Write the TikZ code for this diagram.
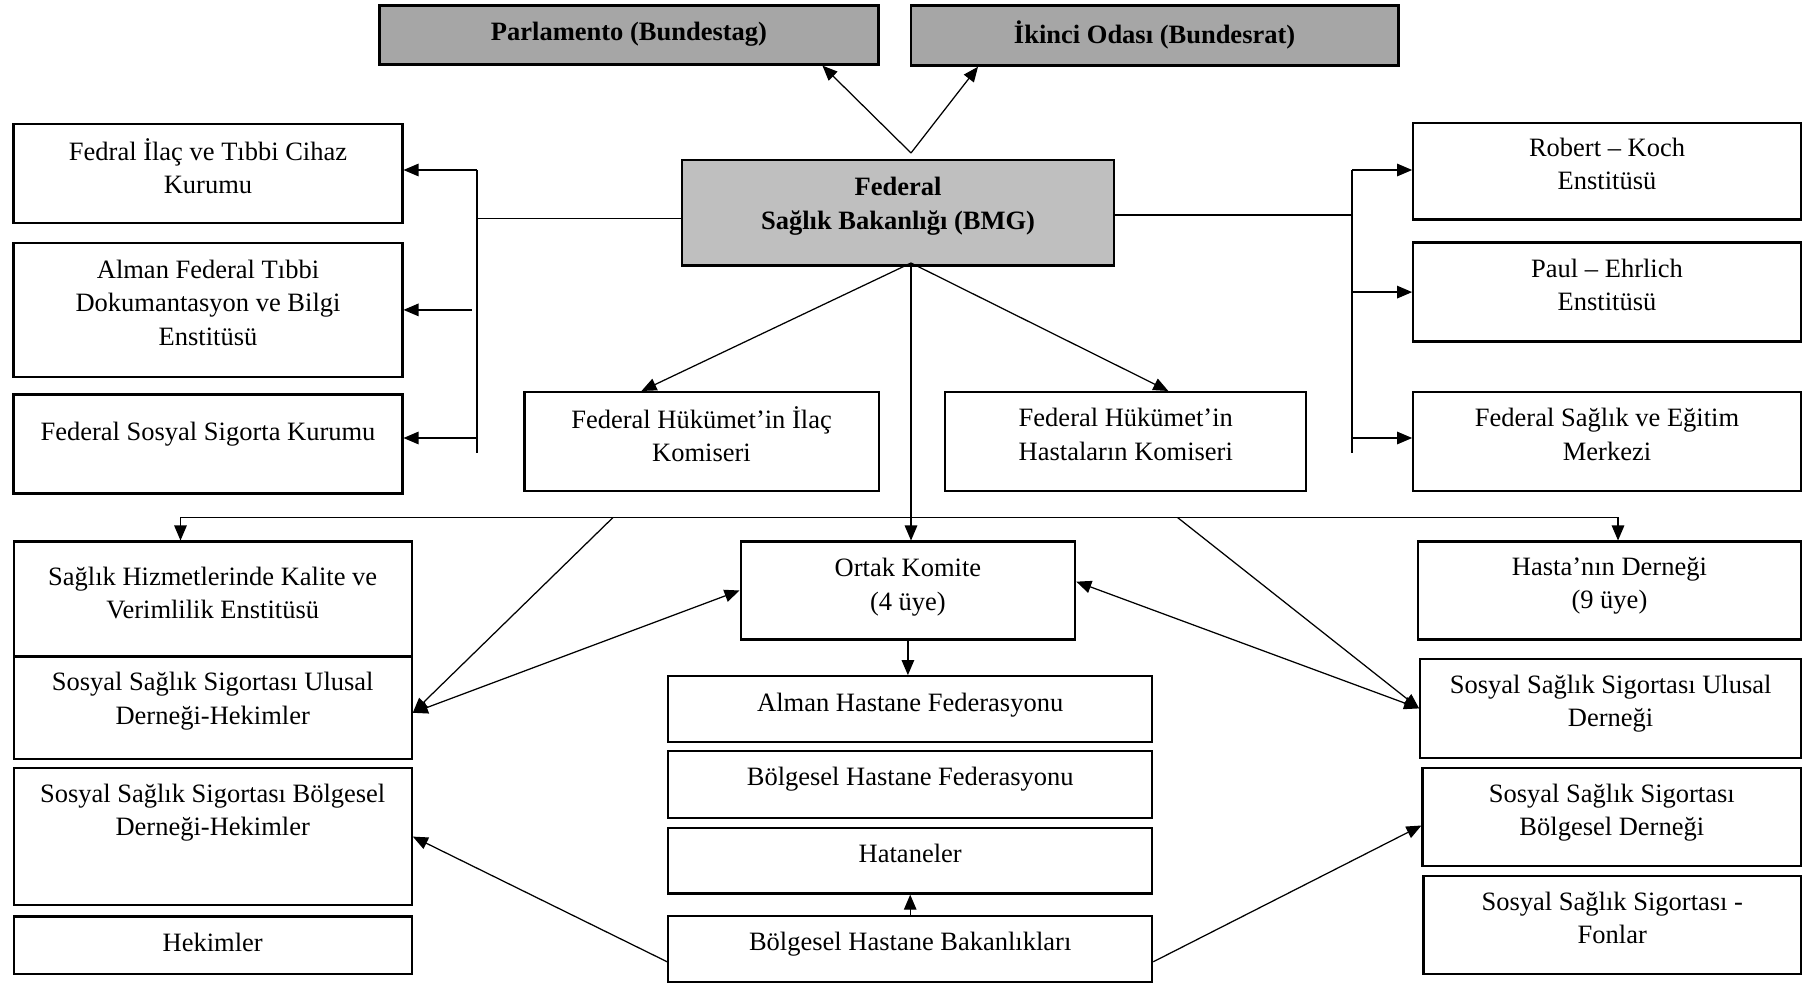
\documentclass[tikz,border=0pt]{standalone}
\usepackage{fontspec}
\setmainfont{Liberation Serif}
\usepackage{tikz}
\usetikzlibrary{positioning,arrows.meta,calc}
\tikzset{
    >={Triangle[length=6pt,width=5pt]},
    unit/.style = {
        draw,
        shape=rectangle,
        line width=0.9pt,
        align=center,
        inner sep=2pt,
        font=\fontsize{10.6pt}{13.3pt}\selectfont,
        text depth=5.8pt
    },
    chamber/.style = {
        unit,
        fill=black!35,
        font=\fontsize{10.6pt}{13.3pt}\selectfont\bfseries,
        text depth=2.6pt
    },
    ministry/.style = {
        unit,
        fill=black!25,
        font=\fontsize{10.6pt}{13.3pt}\selectfont\bfseries,
        text depth=7.6pt
    },
}

\begin{document}
\begin{tikzpicture}[x=0.4pt,y=-0.4pt,line width=0.5pt]
            \useasboundingbox (0,0) rectangle (1803,984);

            \node[chamber, minimum width=199.6pt, minimum height=23.6pt] (parl) at (629,35) {Parlamento (Bundestag)};
            \node[chamber, minimum width=195pt, minimum height=24pt] (odasi) at (1154.6,35.6) {İkinci Odası (Bundesrat)};
            \node[ministry, minimum width=173pt, minimum height=42.3pt] (bmg) at (898,212.7) {Federal\\Sağlık Bakanlığı (BMG)};

            \node[unit, minimum width=155.5pt, minimum height=39.6pt] (ilac) at (208,173.6) {Fedral İlaç ve Tıbbi Cihaz\\Kurumu};
            \node[unit, minimum width=155.5pt, minimum height=53.8pt] (dokum) at (208,309.9) {Alman Federal Tıbbi\\Dokumantasyon ve Bilgi\\Enstitüsü};
            \node[unit, minimum width=155.5pt, minimum height=39.6pt, text depth=10.4pt] (sigorta) at (208,443.9) {Federal Sosyal Sigorta Kurumu};

            \node[unit, minimum width=155pt, minimum height=38.6pt] (koch) at (1607,171.3) {Robert – Koch\\Enstitüsü};
            \node[unit, minimum width=155pt, minimum height=39.6pt] (ehrlich) at (1607,292.1) {Paul – Ehrlich\\Enstitüsü};
            \node[unit, minimum width=155pt, minimum height=39.6pt] (egitim) at (1607,441.6) {Federal Sağlık ve Eğitim\\Merkezi};

            \node[unit, minimum width=141.7pt, minimum height=39.6pt] (komilac) at (701.5,441.6) {Federal Hükümet’in İlaç\\Komiseri};
            \node[unit, minimum width=144.4pt, minimum height=39.6pt] (komhasta) at (1125.8,441.6) {Federal Hükümet’in\\Hastaların Komiseri};

            \node[unit, minimum width=159.2pt, minimum height=46pt, text depth=4.9pt] (kalite) at (212.7,599.1) {Sağlık Hizmetlerinde Kalite ve\\Verimlilik Enstitüsü};
            \node[unit, minimum width=159.2pt, minimum height=41pt, text depth=7.6pt] (ulush) at (212.7,707.8) {Sosyal Sağlık Sigortası Ulusal\\Derneği-Hekimler};
            \node[unit, minimum width=159.2pt, minimum height=54.7pt, text depth=21.4pt] (bolgeh) at (212.7,836.6) {Sosyal Sağlık Sigortası Bölgesel\\Derneği-Hekimler};
            \node[unit, minimum width=159.2pt, minimum height=23pt, text depth=2pt] (hekim) at (212.7,945.2) {Hekimler};

            \node[unit, minimum width=133.8pt, minimum height=39.1pt, text depth=4.9pt] (ortak) at (907.9,590.5) {Ortak Komite\\(4 üye)};
            \node[unit, minimum width=193.6pt, minimum height=26.2pt, text depth=5.3pt] (ahf) at (910.2,709) {Alman Hastane Federasyonu};
            \node[unit, minimum width=193.6pt, minimum height=26.7pt, text depth=6.7pt] (bhf) at (910.2,784.3) {Bölgesel Hastane Federasyonu};
            \node[unit, minimum width=193.6pt, minimum height=26.2pt, text depth=6.3pt] (hat) at (910.2,860.8) {Hataneler};
            \node[unit, minimum width=193.6pt, minimum height=26.4pt] (bak) at (910.2,949) {Bölgesel Hastane Bakanlıkları};

            \node[unit, minimum width=153.2pt, minimum height=39.1pt] (hasta) at (1609.4,590.5) {Hasta’nın Derneği\\(9 üye)};
            \node[unit, minimum width=152.3pt, minimum height=39.6pt] (ulusd) at (1610.6,708.4) {Sosyal Sağlık Sigortası Ulusal\\Derneği};
            \node[unit, minimum width=151.4pt, minimum height=39.1pt] (bolged) at (1611.8,817) {Sosyal Sağlık Sigortası\\Bölgesel Derneği};
            \node[unit, minimum width=151pt, minimum height=39.1pt] (fon) at (1612.3,925.1) {Sosyal Sağlık Sigortası -\\Fonlar};

            \coordinate (apex) at (911,153);
            \coordinate (bmgs) at (911,263);
            \coordinate (lj) at (477,218.5);
            \coordinate (lt) at (477,170);
            \coordinate (lb) at (477,453);
            \coordinate (ls) at (477,438);
            \coordinate (rj) at (1352,215);
            \coordinate (rt) at (1352,170);
            \coordinate (rb) at (1352,453);
            \coordinate (rs) at (1352,438);
            \coordinate (hl) at (180.5,517.5);
            \coordinate (hr) at (1618,517.5);
            \coordinate (dl) at (613,517.5);
            \coordinate (dr) at (1177.5,517.5);
            \coordinate (uh) at ([yshift=-2pt]ulush.east);

            \path[draw, ->] (apex) -- (parl.-9);
            \path[draw, ->] (apex) -- (odasi.190);

            \path[draw] (bmg.west |- lj) -- (lj);
            \path[draw] (lt) -- (lb);
            \path[draw, ->] (lt) -- (lt -| ilac.east);
            \path[draw, ->] ([xshift=-2pt]lt |- dokum.east) -- (dokum.east);
            \path[draw, ->] (ls) -- (ls -| sigorta.east);

            \path[draw] (bmg.east |- rj) -- (rj);
            \path[draw] (rt) -- (rb);
            \path[draw, ->] (rt) -- (rt -| koch.west);
            \path[draw, ->] (rt |- ehrlich.west) -- (ehrlich.west);
            \path[draw, ->] (rs) -- (rs -| egitim.west);

            \path[draw, ->] (bmgs) -- ([xshift=-24pt]komilac.north);
            \path[draw, ->] (bmgs) -- ([xshift=17pt]komhasta.north);
            \path[draw, ->] (bmgs) -- (bmgs |- ortak.north);

            \path[draw] (hl) -- (hr);
            \path[draw, ->] (hl) -- (hl |- kalite.north);
            \path[draw, ->] (hr) -- (hr |- hasta.north);
            \path[draw, ->] (dl) -- (uh);
            \path[draw, ->] (dr) -- (ulusd.west);
            \path[draw, <->] (ortak.west) -- (uh);
            \path[draw, <->] (ortak.3) -- (ulusd.west);

            \path[draw, ->] (ortak.south) -- (ortak.south |- ahf.north);
            \path[draw, ->] (bak.north) -- (hat.south);
            \path[draw, ->] (bak.183) -- (bolgeh.east);
            \path[draw, ->] (bak.357) -- ([yshift=-3.4pt]bolged.west);
\end{tikzpicture}
\end{document}
